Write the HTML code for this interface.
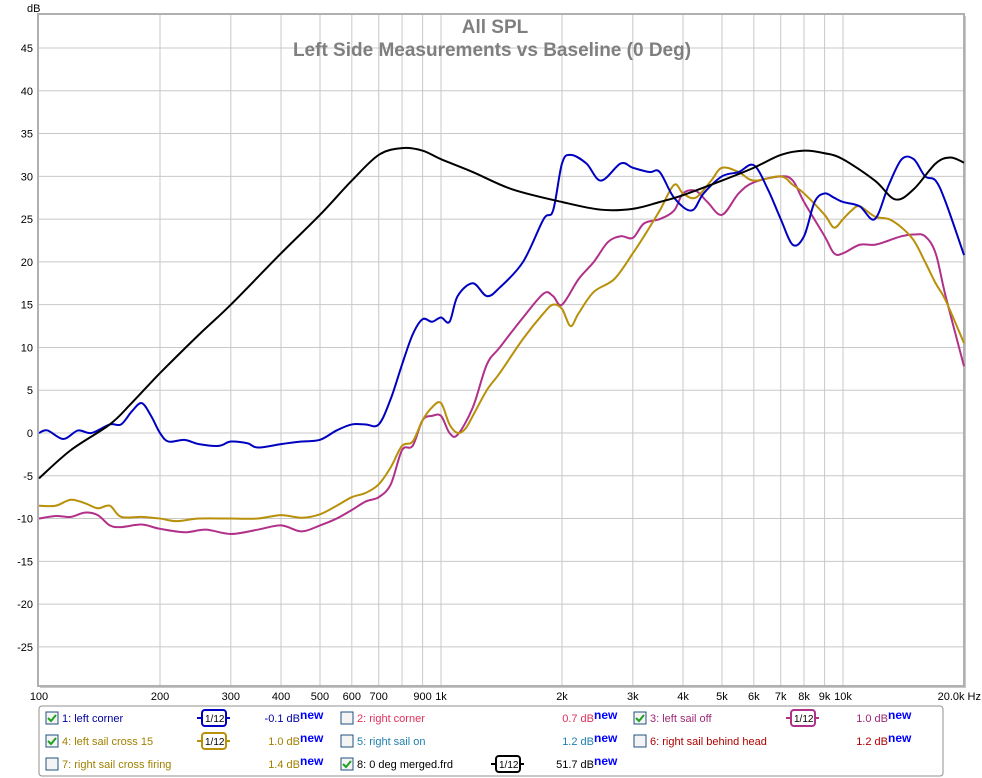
<!DOCTYPE html>
<html><head><meta charset="utf-8"><style>
body{margin:0;background:#fff;font-family:"Liberation Sans",sans-serif;}
svg{display:block}
</style></head><body>
<svg id="s" width="982" height="778" xmlns="http://www.w3.org/2000/svg" font-family="Liberation Sans, sans-serif">
<rect x="0" y="0" width="982" height="778" fill="#fff"/>
<rect x="40" y="16" width="926" height="672" fill="#c8c8c8"/>
<rect x="38" y="14" width="926" height="672" fill="#fff" stroke="#b0b0b0" stroke-width="2"/>
<g id="grid" stroke="#c8c8c8" stroke-width="1"></g>
<g id="lbl" font-size="11" fill="#000"></g>
<text x="27" y="12" font-size="11">dB</text>
<text x="495" y="33" font-size="19" font-weight="bold" fill="#7f7f7f" text-anchor="middle">All SPL</text>
<text x="492" y="56" font-size="19" font-weight="bold" fill="#7f7f7f" text-anchor="middle">Left Side Measurements vs Baseline (0 Deg)</text>
<g id="curves" fill="none" stroke-width="2" stroke-linejoin="round"></g>
<rect x="39" y="706" width="904" height="70" rx="3" fill="#fff" stroke="#909090"/>
<g font-size="11">
<g id="legend"></g>
</g>
</svg>
<script>
const NS="http://www.w3.org/2000/svg";
const X=f=>39+402*Math.log10(f/100), Y=d=>433-8.556*d;
function el(t,a,p,txt){const e=document.createElementNS(NS,t);for(const k in a)e.setAttribute(k,a[k]);if(txt!=null)e.textContent=txt;document.getElementById(p).appendChild(e);return e;}
for(let d=-25;d<=45;d+=5){const y=Y(d);el('line',{x1:39,x2:963,y1:y,y2:y},'grid');el('text',{x:33,y:y+4,'text-anchor':'end'},'lbl',d);}
const fr=[200,300,400,500,600,700,800,900,1000,2000,3000,4000,5000,6000,7000,8000,9000,10000];
fr.forEach(f=>el('line',{x1:X(f),x2:X(f),y1:15,y2:685},'grid'));
const xl={100:'100',200:'200',300:'300',400:'400',500:'500',600:'600',700:'700',900:'900',1000:'1k',2000:'2k',3000:'3k',4000:'4k',5000:'5k',6000:'6k',7000:'7k',8000:'8k',9000:'9k',10000:'10k'};
for(const f in xl)el('text',{x:X(+f),y:700,'text-anchor':'middle'},'lbl',xl[f]);
el('text',{x:981,y:700,'text-anchor':'end'},'lbl','20.0k Hz');
function path(pts,c){const p=pts.map(q=>[X(q[0]),Y(q[1])]);let d='M'+p[0];for(let i=0;i<p.length-1;i++){const p0=p[i-1]||p[i],p1=p[i],p2=p[i+1],p3=p[i+2]||p2;const c1=[p1[0]+(p2[0]-p0[0])/6,p1[1]+(p2[1]-p0[1])/6],c2=[p2[0]-(p3[0]-p1[0])/6,p2[1]-(p3[1]-p1[1])/6];d+='C'+c1+' '+c2+' '+p2;}el('path',{d:d,stroke:c},'curves');}
const mag=[[100,-10],[110,-9.7],[120,-9.8],[130,-9.3],[140,-9.6],[150,-10.8],[160,-11],[180,-10.7],[200,-11.2],[230,-11.6],[260,-11.3],[300,-11.8],[350,-11.3],[400,-10.8],[450,-11.5],[500,-10.8],[550,-10],[600,-9],[650,-8],[700,-7.5],[750,-6],[800,-2],[850,-1.5],[900,1.5],[950,2],[1000,2],[1050,0],[1100,-0.2],[1200,3],[1300,8],[1400,10],[1600,13.5],[1800,16.3],[1900,16],[2000,15],[2200,18],[2400,20],[2600,22.3],[2800,23],[3000,22.8],[3200,24.5],[3500,25],[3800,26],[4000,28],[4300,28.3],[4600,27],[5000,25.5],[5500,28],[6000,29.3],[7000,30],[7500,29.5],[8000,27],[9000,23],[9500,21],[10000,21],[11000,22],[12000,22],[13000,22.5],[14000,23],[15000,23.2],[16000,23],[17000,21],[18000,16],[20000,7.8]];
const gold=[[100,-8.5],[110,-8.5],[120,-7.8],[130,-8.2],[140,-8.8],[150,-8.5],[160,-9.8],[180,-9.8],[200,-10],[220,-10.3],[250,-10],[300,-10],[350,-10],[400,-9.6],[450,-9.9],[500,-9.5],[550,-8.5],[600,-7.5],[650,-7],[700,-6],[750,-4],[800,-1.5],[850,-1],[900,1.5],[950,3],[1000,3.5],[1050,1],[1100,0],[1150,0.5],[1200,2],[1300,5],[1400,7],[1600,11],[1800,14],[1900,15],[2000,14.5],[2100,12.5],[2200,14],[2400,16.5],[2700,18],[3000,21],[3200,23],[3500,26],[3800,29],[4000,28],[4300,27.5],[4700,29.5],[5000,31],[5500,30.5],[6000,29.5],[7000,30],[7500,29],[8000,28],[9000,25.5],[9500,24],[10000,25],[10500,26],[11000,26.5],[12000,25.3],[13000,25],[14000,24],[15000,22.5],[16000,20],[17000,17.5],[18000,15.5],[20000,10.5]];
const blue=[[100,0],[105,0.3],[115,-0.7],[125,0.3],[135,0],[150,1],[160,1],[170,2.5],[180,3.5],[190,2],[200,0],[210,-1],[230,-0.8],[250,-1.3],[280,-1.5],[300,-1],[330,-1.2],[350,-1.7],[400,-1.3],[450,-1],[500,-0.8],[550,0.3],[600,1],[650,1],[700,1],[750,4],[800,8],[850,11.5],[900,13.3],[950,13],[1000,13.5],[1050,13],[1100,16],[1200,17.5],[1300,16],[1400,17],[1600,20],[1800,25],[1900,26],[2000,31.5],[2100,32.5],[2300,31.5],[2500,29.5],[2800,31.5],[3000,31],[3300,30.5],[3500,30.5],[3800,27.5],[4200,26],[4500,28],[5000,30],[5500,30.5],[6000,31.3],[6500,28.5],[7000,25],[7500,22],[8000,23],[8500,27],[9000,28],[9500,27.5],[10000,27],[11000,26.5],[12000,25],[13000,29],[14000,32],[15000,32],[16000,30],[17000,29.5],[18000,27],[20000,20.8]];
const blk=[[100,-5.3],[120,-2],[150,1],[170,3.5],[200,7],[250,11.5],[300,15],[400,21],[500,25.5],[600,29.5],[700,32.5],[800,33.3],[900,33],[1000,32],[1200,30.5],[1500,28.5],[2000,27],[2500,26.1],[3000,26.2],[3500,27],[4000,27.8],[5000,29.5],[6000,31],[7000,32.5],[8000,33],[9000,32.7],[10000,32],[12000,29.5],[13500,27.3],[15000,28.5],[17000,31.5],[18500,32.2],[20000,31.6]];
path(mag,'#b0308a');path(gold,'#b8900a');path(blue,'#0000c0');path(blk,'#000');
function cb(x,y,chk){el('rect',{x:x,y:y,width:12,height:12,fill:'#f4f4f4',stroke:'#1f4f7f'},'legend');if(chk)el('path',{d:`M${x+2} ${y+6}l3 3l5-6`,stroke:'#20a020','stroke-width':2,fill:'none'},'legend');}
function badge(x,y,c){el('line',{x1:x,x2:x+33,y1:y,y2:y,stroke:c,'stroke-width':2},'legend');el('rect',{x:x+5,y:y-8,width:24,height:16,rx:3,fill:'#fff',stroke:c,'stroke-width':2},'legend');el('text',{x:x+8,y:y+4,'font-size':10},'legend','1/12');}
function val(x,y,t,c){el('text',{x:x,y:y,'text-anchor':'end',fill:c},'legend',t+' dB');el('text',{x:x,y:y-3,fill:'#0000ff','font-weight':'bold','font-size':12},'legend','new');}
function item(x,y,chk,label,lc,bad,bc,bx,vx,vt,vc){cb(x,y-6,chk);el('text',{x:x+16,y:y+4,fill:lc},'legend',label);if(bad)badge(bx,y,bc);val(vx,y+4,vt,vc);}
item(46,718,1,'1: left corner','#0000a0',1,'#0000c0',197,300,'-0.1','#0000a0');
item(46,741,1,'4: left sail cross 15','#a08000',1,'#b8900a',197,300,'1.0','#a08000');
item(46,764,0,'7: right sail cross firing','#a08000',0,'',0,300,'1.4','#a08000');
item(341,718,0,'2: right corner','#e0305a',0,'',0,594,'0.7','#e0305a');
item(341,741,0,'5: right sail on','#2080b0',0,'',0,594,'1.2','#2080b0');
item(341,764,1,'8: 0 deg merged.frd','#000',1,'#000',491,594,'51.7','#000');
item(634,718,1,'3: left sail off','#a02878',1,'#b0308a',786,888,'1.0','#a02878');
item(634,741,0,'6: right sail behind head','#b00000',0,'',0,888,'1.2','#b00000');
</script>
</body></html>
